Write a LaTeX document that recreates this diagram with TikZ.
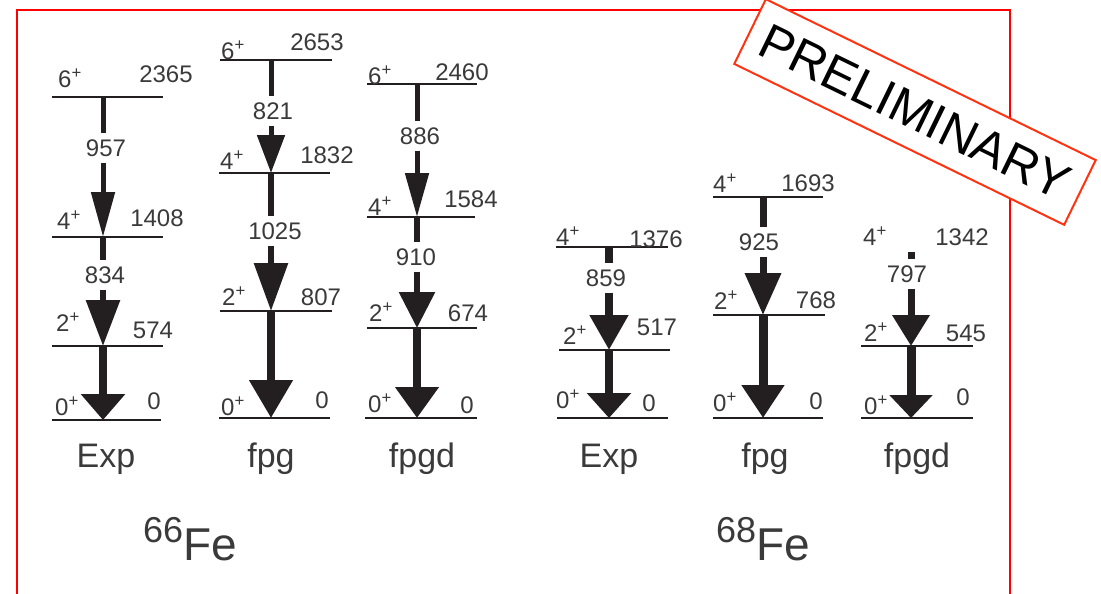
\documentclass[tikz,border=0pt]{standalone}
\usepackage{fontspec}
\setmainfont{Liberation Sans}
\usetikzlibrary{arrows.meta}
\definecolor{rojo}{HTML}{FF0000}
\definecolor{naranja}{HTML}{FF3311}
\definecolor{tinta}{HTML}{231F20}
\definecolor{gris}{HTML}{3A3A3A}
\tikzset{
  nivel/.style={line width=1.5pt, tinta},
  etiq/.style={font=\fontsize{24}{24}\selectfont, text=gris, inner sep=0pt},
  gnum/.style={font=\fontsize{24}{24}\selectfont, text=gris,
    inner xsep=0pt, inner ysep=6pt},
  traza/.style={line width=#1, tinta},
  punta/.style 2 args={-{Triangle[width=#1, length=#2]}},
  titulo/.style={font=\fontsize{34}{34}\selectfont, text=gris, anchor=base},
  nucleo/.style={font=\fontsize{46}{46}\selectfont, text=gris,
    anchor=base west, inner sep=0pt},
  marco/.style={draw=rojo, line width=2pt},
  sello/.style={draw=naranja, line width=2pt, fill=white, rotate=-26,
    minimum width=367pt, minimum height=72pt, font=\fontsize{50}{50}\selectfont}
}
\begin{document}
\begin{tikzpicture}[x=1pt, y=-1pt]
  \useasboundingbox (0,0) rectangle (1101,594);

  % --- Marco ---
  \draw[marco] (17,10) rectangle (1010,640);

  % --- 66Fe: Exp ---
  \coordinate (a6) at (103,97);
  \coordinate (a4) at (103,237);
  \coordinate (a2) at (103,346);
  \coordinate (a0) at (103,420);
  \draw[nivel] (52,97) -- (163,97);
  \draw[nivel] (52,237) -- (163,237);
  \draw[nivel] (52,346) -- (163,346);
  \draw[nivel] (52,420) -- (161,420);
  \node[etiq] (a6s) at (70,78) {6\textsuperscript{+}};
  \node[etiq] (a6e) at (166,74) {2365};
  \node[etiq] (a4s) at (69,220) {4\textsuperscript{+}};
  \node[etiq] (a4e) at (157,218) {1408};
  \node[etiq] (a2s) at (68,322) {2\textsuperscript{+}};
  \node[etiq] (a2e) at (153,330) {574};
  \node[etiq] (a0s) at (67,406) {0\textsuperscript{+}};
  \node[etiq] (a0e) at (154,401) {0};
  \node[gnum] (a64) at (106,148) {957};
  \draw[traza=5pt] (a6) -- (a6 |- a64.north);
  \draw[traza=5pt, punta={23pt}{45pt}] (a6 |- a64.south) -- (a4);
  \node[gnum] (a42) at (105,275) {834};
  \draw[traza=6pt] (a4) -- (a4 |- a42.north);
  \draw[traza=6pt, punta={33pt}{46pt}] (a4 |- a42.south) -- (a2);
  \draw[traza=8pt, punta={43pt}{26pt}] (a2) -- (a0);
  \node[titulo] (aexp) at (106,467) {Exp};

  % --- 66Fe: fpg ---
  \coordinate (b6) at (271,60);
  \coordinate (b4) at (271,173);
  \coordinate (b2) at (271,311);
  \coordinate (b0) at (271,418);
  \draw[nivel] (220,60) -- (332,60);
  \draw[nivel] (219,173) -- (330,173);
  \draw[nivel] (220,311) -- (332,311);
  \draw[nivel] (219,418) -- (330,418);
  \node[etiq] (b6s) at (233,50) {6\textsuperscript{+}};
  \node[etiq] (b6e) at (317,42) {2653};
  \node[etiq] (b4s) at (232,160) {4\textsuperscript{+}};
  \node[etiq] (b4e) at (327,155) {1832};
  \node[etiq] (b2s) at (234,296) {2\textsuperscript{+}};
  \node[etiq] (b2e) at (321,297) {807};
  \node[etiq] (b0s) at (233,406) {0\textsuperscript{+}};
  \node[etiq] (b0e) at (322,400) {0};
  \node[gnum] (b64) at (273,111) {821};
  \draw[traza=5pt] (b6) -- (b6 |- b64.north);
  \draw[traza=5pt, punta={27pt}{38pt}] (b6 |- b64.south) -- (b4);
  \node[gnum] (b42) at (275,231) {1025};
  \draw[traza=6pt] (b4) -- (b4 |- b42.north);
  \draw[traza=6pt, punta={33pt}{48pt}] (b4 |- b42.south) -- (b2);
  \draw[traza=8pt, punta={42pt}{38pt}] (b2) -- (b0);
  \node[titulo] (bfpg) at (271,467) {fpg};

  % --- 66Fe: fpgd ---
  \coordinate (c6) at (417,84);
  \coordinate (c4) at (417,217);
  \coordinate (c2) at (417,328);
  \coordinate (c0) at (417,418);
  \draw[nivel] (367,84) -- (477,84);
  \draw[nivel] (367,217) -- (475,217);
  \draw[nivel] (367,328) -- (477,328);
  \draw[nivel] (365,418) -- (477,418);
  \node[etiq] (c6s) at (380,75) {6\textsuperscript{+}};
  \node[etiq] (c6e) at (462,72) {2460};
  \node[etiq] (c4s) at (380,206) {4\textsuperscript{+}};
  \node[etiq] (c4e) at (471,199) {1584};
  \node[etiq] (c2s) at (381,312) {2\textsuperscript{+}};
  \node[etiq] (c2e) at (468,313) {674};
  \node[etiq] (c0s) at (380,403) {0\textsuperscript{+}};
  \node[etiq] (c0e) at (467,405) {0};
  \node[gnum] (c64) at (420,136) {886};
  \draw[traza=5pt] (c6) -- (c6 |- c64.north);
  \draw[traza=5pt, punta={23pt}{44pt}] (c6 |- c64.south) -- (c4);
  \node[gnum] (c42) at (416,257) {910};
  \draw[traza=6pt] (c4) -- (c4 |- c42.north);
  \draw[traza=6pt, punta={35pt}{36pt}] (c4 |- c42.south) -- (c2);
  \draw[traza=8pt, punta={42pt}{31pt}] (c2) -- (c0);
  \node[titulo] (cfpgd) at (422,467) {fpgd};

  % --- 68Fe: Exp ---
  \coordinate (d4) at (609,247);
  \coordinate (d2) at (609,350);
  \coordinate (d0) at (609,418);
  \draw[nivel] (556,247) -- (668,247);
  \draw[nivel] (559,350) -- (670,350);
  \draw[nivel] (557,418) -- (668,418);
  \node[etiq] (d4s) at (568,236) {4\textsuperscript{+}};
  \node[etiq] (d4e) at (656,239) {1376};
  \node[etiq] (d2s) at (575,335) {2\textsuperscript{+}};
  \node[etiq] (d2e) at (657,327) {517};
  \node[etiq] (d0s) at (568,399) {0\textsuperscript{+}};
  \node[etiq] (d0e) at (649,403) {0};
  \node[gnum] (d42) at (606,278) {859};
  \draw[traza=8pt] (d4) -- (d4 |- d42.north);
  \draw[traza=8pt, punta={37pt}{35pt}] (d4 |- d42.south) -- (d2);
  \draw[traza=8pt, punta={43pt}{25pt}] (d2) -- (d0);
  \node[titulo] (dexp) at (609,467) {Exp};

  % --- 68Fe: fpg ---
  \coordinate (e4) at (763,197);
  \coordinate (e2) at (763,315);
  \coordinate (e0) at (763,418);
  \draw[nivel] (713,197) -- (823,197);
  \draw[nivel] (713,315) -- (825,315);
  \draw[nivel] (713,418) -- (823,418);
  \node[etiq] (e4s) at (725,183) {4\textsuperscript{+}};
  \node[etiq] (e4e) at (808,183) {1693};
  \node[etiq] (e2s) at (726,300) {2\textsuperscript{+}};
  \node[etiq] (e2e) at (816,300) {768};
  \node[etiq] (e0s) at (725,402) {0\textsuperscript{+}};
  \node[etiq] (e0e) at (816,401) {0};
  \node[gnum] (e42) at (759,242) {925};
  \draw[traza=7pt] (e4) -- (e4 |- e42.north);
  \draw[traza=7pt, punta={35pt}{42pt}] (e4 |- e42.south) -- (e2);
  \draw[traza=9pt, punta={41pt}{33pt}] (e2) -- (e0);
  \node[titulo] (efpg) at (765,467) {fpg};

  % --- 68Fe: fpgd (sin linea en 4+) ---
  \coordinate (f4) at (911,252);
  \coordinate (f2) at (911,346);
  \coordinate (f0) at (911,418);
  \draw[nivel] (861,346) -- (973,346);
  \draw[nivel] (861,418) -- (973,418);
  \node[etiq] (f4s) at (875,236) {4\textsuperscript{+}};
  \node[etiq] (f4e) at (962,237) {1342};
  \node[etiq] (f2s) at (876,332) {2\textsuperscript{+}};
  \node[etiq] (f2e) at (966,333) {545};
  \node[etiq] (f0s) at (876,405) {0\textsuperscript{+}};
  \node[etiq] (f0e) at (963,397) {0};
  \node[gnum] (f42) at (907,274) {797};
  \draw[traza=7pt] (f4) -- (f4 |- f42.north);
  \draw[traza=7pt, punta={36pt}{31pt}] (f4 |- f42.south) -- (f2);
  \draw[traza=9pt, punta={42pt}{23pt}] (f2) -- (f0);
  \node[titulo] (ffpgd) at (917,467) {fpgd};

  % --- Nucleos ---
  \node[nucleo] (fe66) at (143,560)
    {\raisebox{18pt}{\fontsize{36}{36}\selectfont 66}Fe};
  \node[nucleo] (fe68) at (716,560)
    {\raisebox{18pt}{\fontsize{36}{36}\selectfont 68}Fe};

  % --- Sello ---
  \node[sello] (prelim) at (915,112) {PRELIMINARY};

\end{tikzpicture}
\end{document}
